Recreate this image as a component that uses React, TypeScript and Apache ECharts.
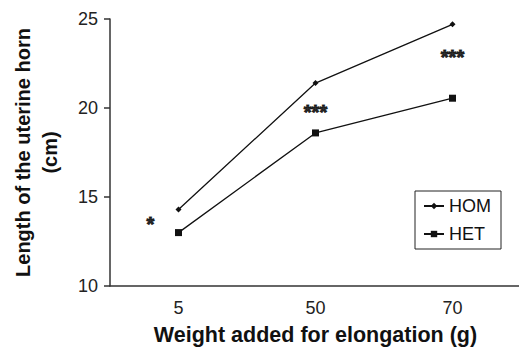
import React, { useEffect, useRef } from "react";
import * as echarts from "echarts";

const categories = ["5", "50", "70"];
const homValues = [14.3, 21.4, 24.7];
const hetValues = [13.0, 18.6, 20.55];
const sigLabels = ["*", "***", "***"];
const sigValues = [13.5, 19.75, 22.85];

export default function App() {
  const ref = useRef<HTMLDivElement>(null);
  useEffect(() => {
    const chart = echarts.init(ref.current!, null, { renderer: "svg" });
    const font = "Liberation Sans, Arial, sans-serif";
    chart.setOption({
      animation: false,
      backgroundColor: "#fff",
      textStyle: { fontFamily: font },
      grid: { left: 110, right: -2, top: 19, bottom: 61, containLabel: false, outerBoundsMode: "none" },
      legend: {
        right: 18,
        top: 191,
        orient: "vertical",
        borderColor: "#222",
        borderWidth: 1,
        borderRadius: 0,
        padding: [6, 10, 6, 8],
        itemGap: 10,
        itemWidth: 20,
        itemHeight: 8,
        textStyle: { fontFamily: font, fontSize: 18, color: "#111" },
        data: ["HOM", "HET"],
      },
      xAxis: {
        type: "category",
        data: categories,
        boundaryGap: true,
        axisLine: { lineStyle: { color: "#333", width: 1.5 } },
        axisTick: { show: false },
        axisLabel: { fontSize: 18, color: "#222", margin: 13, fontFamily: font },
        name: "Weight added for elongation (g)",
        nameLocation: "middle",
        nameGap: 38,
        nameTextStyle: { fontSize: 21.5, fontWeight: "bold", color: "#111", fontFamily: font },
      },
      yAxis: {
        type: "value",
        min: 10,
        max: 25,
        interval: 5,
        splitLine: { show: false },
        axisLine: { show: true, lineStyle: { color: "#333", width: 1.5 } },
        axisTick: { show: true, length: 6, lineStyle: { color: "#333", width: 1.5 } },
        axisLabel: { fontSize: 18, color: "#222", margin: 12, fontFamily: font },
        name: "Length of the uterine horn\n(cm)",
        nameLocation: "middle",
        nameGap: 47,
        nameTextStyle: { fontSize: 20, fontWeight: "bold", color: "#111", lineHeight: 27, fontFamily: font },
      },
      series: [
        {
          name: "HOM",
          type: "line",
          data: homValues,
          symbol: "diamond",
          symbolSize: 6,
          itemStyle: { color: "#111" },
          lineStyle: { color: "#111", width: 1.3 },
        },
        {
          name: "HET",
          type: "line",
          data: hetValues,
          symbol: "rect",
          symbolSize: 7,
          itemStyle: { color: "#111" },
          lineStyle: { color: "#111", width: 1.3 },
        },
        {
          name: "sig",
          type: "scatter",
          data: sigValues.map((v, i) => ({
            value: [categories[i], v],
            label: { formatter: sigLabels[i], offset: i === 0 ? [-28, 0] : [0, 0] },
          })),
          symbol: "circle",
          symbolSize: 1,
          itemStyle: { color: "rgba(0,0,0,0)" },
          silent: true,
          label: {
            show: true,
            position: "inside",
            fontSize: 20,
            fontWeight: "bold",
            color: "#000",
            textBorderColor: "#000",
            textBorderWidth: 1,
            fontFamily: font,
          },
        },
      ],
    });
    return () => chart.dispose();
  }, []);
  return <div ref={ref} style={{ width: 519, height: 347, position: "absolute", left: 0, top: 0 }} />;
}
